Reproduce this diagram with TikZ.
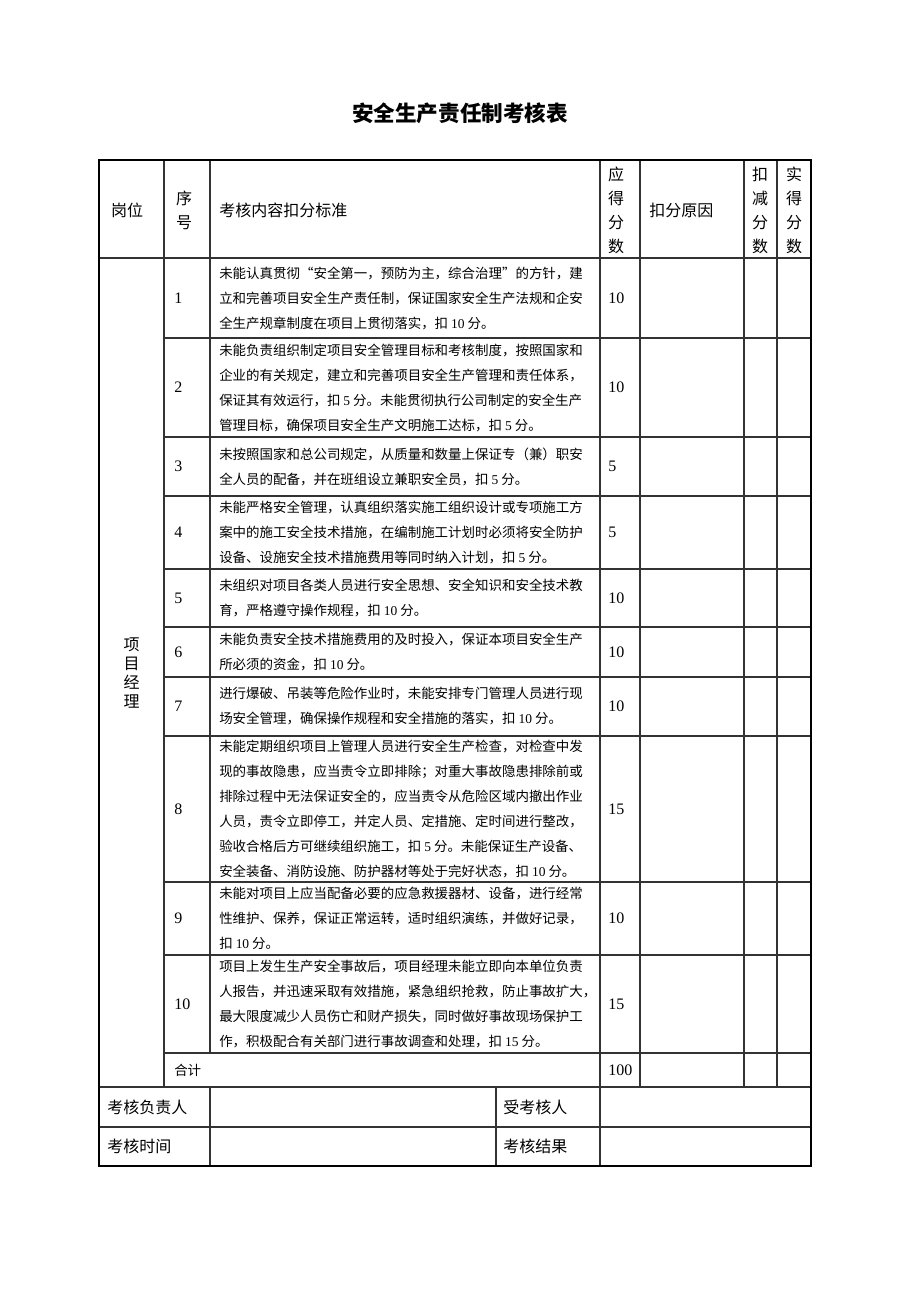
\documentclass[tikz,border=0pt]{standalone}
\usepackage{fontspec}
\newfontfamily\cjk{Noto Sans CJK SC}
\newfontfamily\tnr{Liberation Serif}
\newcommand\dg[1]{{\tnr #1}}
\tikzset{
  grid/.style={line width=0.9pt, draw=black!80},
  outer/.style={line width=1.8pt, draw=black},
  body/.style={font=\cjk\fontsize{10.1}{18.75}\selectfont, align=left, anchor=west, inner sep=0pt},
  hdr/.style={font=\cjk\fontsize{12}{18}\selectfont, align=center, inner sep=0pt},
  hdrl/.style={font=\cjk\fontsize{12}{18}\selectfont, anchor=west, inner sep=0pt},
  numf/.style={font=\tnr\fontsize{12}{14}\selectfont, anchor=west, inner sep=0pt},
}
\begin{document}
\begin{tikzpicture}[x=0.75pt,y=-0.75pt]
\useasboundingbox (0,0) rectangle (920,1302);
\fill[white] (0,0) rectangle (920,1302);
% title
\node[font=\cjk\bfseries\fontsize{16.2}{20}\selectfont, inner sep=0pt] (title) at (460,113) {安全生产责任制考核表};
% grid lines
\foreach \y in {338,437,496,569,627,677,736,882,955,1053} \draw[grid] (164,\y) -- (811,\y);
\foreach \y in {258,1087,1127} \draw[grid] (99,\y) -- (811,\y);
\draw[grid] (164,160) -- (164,1087);
\draw[grid] (210,160) -- (210,1053);
\draw[grid] (210,1087) -- (210,1166);
\draw[grid] (600,160) -- (600,1166);
\draw[grid] (496,1087) -- (496,1166);
\foreach \x in {640,744,777} \draw[grid] (\x,160) -- (\x,1087);
\draw[outer] (99,160) rectangle (811,1166);
% header
\node[hdr] (h1) at (127,210) {岗位};
\node[hdr] (h2) at (184,210) {序\\号};
\node[hdrl] (h3) at (219,210) {考核内容扣分标准};
\node[hdr] (h4) at (616,210) {应\\得\\分\\数};
\node[hdrl] (h5) at (649,210) {扣分原因};
\node[hdr] (h6) at (760,210) {扣\\减\\分\\数};
\node[hdr] (h7) at (794,210) {实\\得\\分\\数};
% post
\node[font=\cjk\fontsize{12}{14.25}\selectfont, align=center, inner sep=0pt] (post) at (131.5,673) {项\\目\\经\\理};
% rows
\node[numf] (s1) at (174,298) {1};
\node[body] (c1) at (219,298) {未能认真贯彻“安全第一，预防为主，综合治理”的方针，建\\立和完善项目安全生产责任制，保证国家安全生产法规和企安\\全生产规章制度在项目上贯彻落实，扣 \dg{10} 分。};
\node[numf] (p1) at (608,298) {10};

\node[numf] (s2) at (174,387.5) {2};
\node[body] (c2) at (219,387.5) {未能负责组织制定项目安全管理目标和考核制度，按照国家和\\企业的有关规定，建立和完善项目安全生产管理和责任体系，\\保证其有效运行，扣 \dg{5} 分。未能贯彻执行公司制定的安全生产\\管理目标，确保项目安全生产文明施工达标，扣 \dg{5} 分。};
\node[numf] (p2) at (608,387.5) {10};

\node[numf] (s3) at (174,466.5) {3};
\node[body] (c3) at (219,466.5) {未按照国家和总公司规定，从质量和数量上保证专（兼）职安\\全人员的配备，并在班组设立兼职安全员，扣 \dg{5} 分。};
\node[numf] (p3) at (608,466.5) {5};

\node[numf] (s4) at (174,532.5) {4};
\node[body] (c4) at (219,532.5) {未能严格安全管理，认真组织落实施工组织设计或专项施工方\\案中的施工安全技术措施，在编制施工计划时必须将安全防护\\设备、设施安全技术措施费用等同时纳入计划，扣 \dg{5} 分。};
\node[numf] (p4) at (608,532.5) {5};

\node[numf] (s5) at (174,598) {5};
\node[body] (c5) at (219,598) {未组织对项目各类人员进行安全思想、安全知识和安全技术教\\育，严格遵守操作规程，扣 \dg{10} 分。};
\node[numf] (p5) at (608,598) {10};

\node[numf] (s6) at (174,652) {6};
\node[body] (c6) at (219,652) {未能负责安全技术措施费用的及时投入，保证本项目安全生产\\所必须的资金，扣 \dg{10} 分。};
\node[numf] (p6) at (608,652) {10};

\node[numf] (s7) at (174,706.5) {7};
\node[body] (c7) at (219,706.5) {进行爆破、吊装等危险作业时，未能安排专门管理人员进行现\\场安全管理，确保操作规程和安全措施的落实，扣 \dg{10} 分。};
\node[numf] (p7) at (608,706.5) {10};

\node[numf] (s8) at (174,809) {8};
\node[body] (c8) at (219,809) {未能定期组织项目上管理人员进行安全生产检查，对检查中发\\现的事故隐患，应当责令立即排除；对重大事故隐患排除前或\\排除过程中无法保证安全的，应当责令从危险区域内撤出作业\\人员，责令立即停工，并定人员、定措施、定时间进行整改，\\验收合格后方可继续组织施工，扣 \dg{5} 分。未能保证生产设备、\\安全装备、消防设施、防护器材等处于完好状态，扣 \dg{10} 分。};
\node[numf] (p8) at (608,809) {15};

\node[numf] (s9) at (174,918.5) {9};
\node[body] (c9) at (219,918.5) {未能对项目上应当配备必要的应急救援器材、设备，进行经常\\性维护、保养，保证正常运转，适时组织演练，并做好记录，\\扣 \dg{10} 分。};
\node[numf] (p9) at (608,918.5) {10};

\node[numf] (s10) at (174,1004) {10};
\node[body] (c10) at (219,1004) {项目上发生生产安全事故后，项目经理未能立即向本单位负责\\人报告，并迅速采取有效措施，紧急组织抢救，防止事故扩大，\\最大限度减少人员伤亡和财产损失，同时做好事故现场保护工\\作，积极配合有关部门进行事故调查和处理，扣 \dg{15} 分。};
\node[numf] (p10) at (608,1004) {15};

\node[body] (tot) at (174,1070) {合计};
\node[numf] (ptot) at (608,1070) {100};
% bottom
\node[hdrl] (b1) at (107,1107) {考核负责人};
\node[hdrl] (b2) at (503,1107) {受考核人};
\node[hdrl] (b3) at (107,1146.5) {考核时间};
\node[hdrl] (b4) at (503,1146.5) {考核结果};
\end{tikzpicture}
\end{document}
